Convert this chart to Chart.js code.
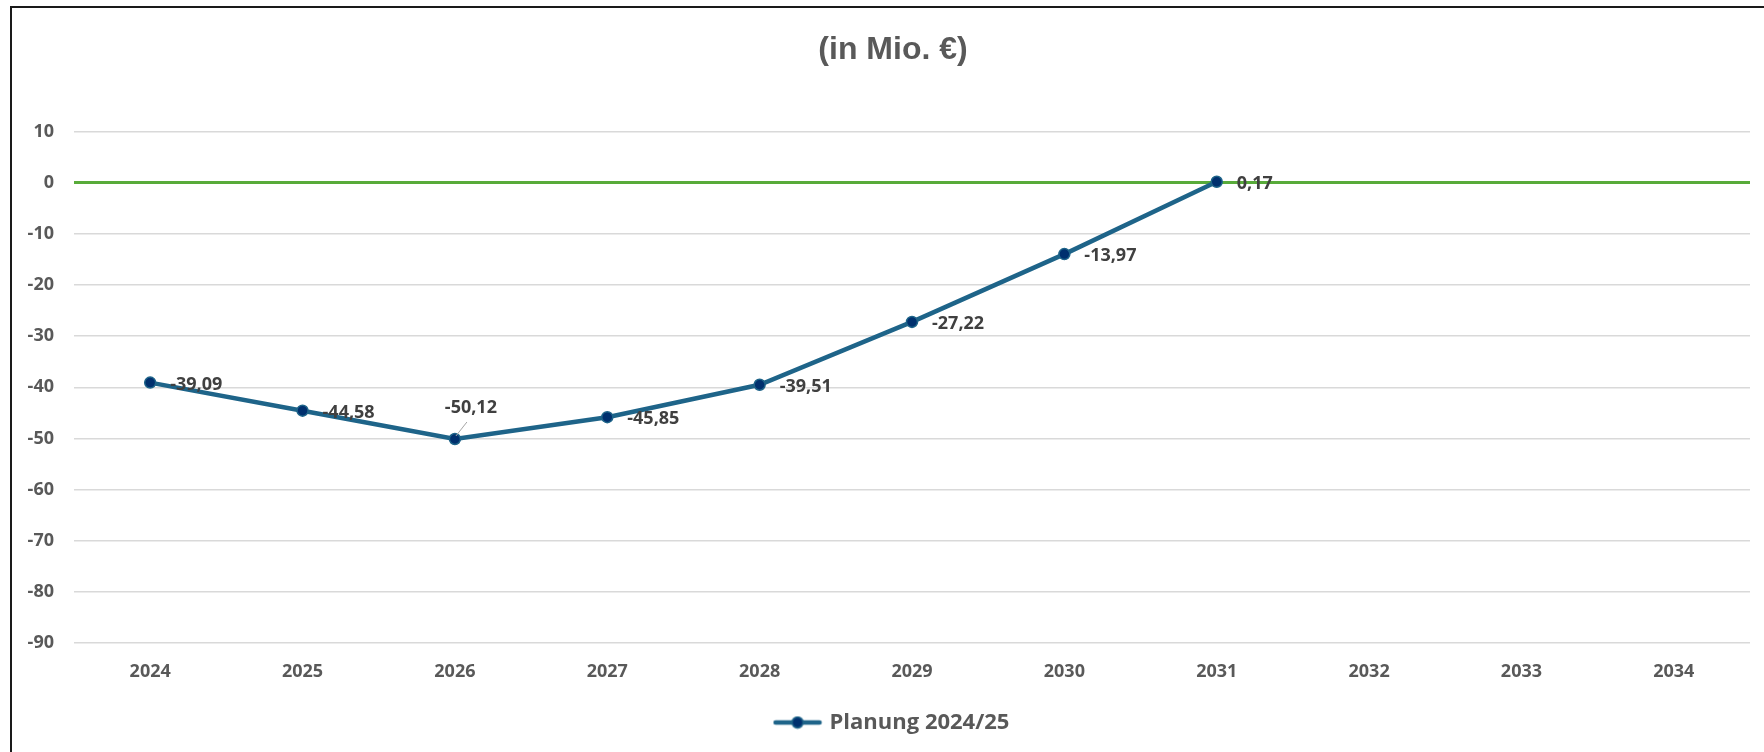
<!DOCTYPE html>
<html>
<head>
<meta charset="utf-8">
<script src="https://cdn.jsdelivr.net/npm/chart.js@4.4.1/dist/chart.umd.min.js"></script>
<style>
html,body{margin:0;padding:0;background:#fff;overflow:hidden;width:1764px;height:752px}
canvas{display:block}
</style>
</head>
<body>
<canvas id="c" width="1786" height="752"></canvas>
<script>
// ---- data ----
const years = ['2024','2025','2026','2027','2028','2029','2030','2031','2032','2033','2034'];
const planung = [-39.09, -44.58, -50.12, -45.85, -39.51, -27.22, -13.97, 0.17, null, null, null];
const yTicks = [10, 0, -10, -20, -30, -40, -50, -60, -70, -80, -90];
const seriesName = 'Planung 2024/25';
const chartTitle = '(in Mio. €)';

// ---- styles ----
const LINE_COLOR = '#1E6489';
const MARKER_FILL = '#00306E';
const GRID_COLOR = '#d9d9d9';
const ZERO_COLOR = '#58AB3A';
const TEXT_GRAY = '#595959';
const LABEL_GRAY = '#404040';
const FONT = '"Open Sans", sans-serif';
const CALLOUT_INDEX = 2; // label placed above with leader line

// legend symbol: line with marker
const legendSym = document.createElement('canvas');
legendSym.width = 50; legendSym.height = 14;
(function(){
  const g = legendSym.getContext('2d');
  g.strokeStyle = LINE_COLOR; g.lineWidth = 4.5; g.lineCap = 'round';
  g.beginPath(); g.moveTo(3, 7); g.lineTo(47, 7); g.stroke();
  g.fillStyle = MARKER_FILL; g.lineWidth = 1.5;
  g.beginPath(); g.arc(25, 7, 5.5, 0, Math.PI * 2); g.fill(); g.stroke();
})();

const framePlugin = {
  id: 'frame',
  beforeDraw(chart) {
    const {ctx, width, height} = chart;
    ctx.save();
    ctx.fillStyle = '#fff';
    ctx.fillRect(0, 0, width, height);
    ctx.strokeStyle = '#1a1a1a';
    ctx.lineWidth = 2;
    ctx.beginPath();
    ctx.moveTo(11, height + 5);
    ctx.lineTo(11, 7);
    ctx.lineTo(width + 5, 7);
    ctx.stroke();
    ctx.restore();
  }
};

const dataLabelPlugin = {
  id: 'dataLabels',
  afterDatasetsDraw(chart) {
    const ctx = chart.ctx;
    const meta = chart.getDatasetMeta(0);
    const vals = chart.data.datasets[0].data;
    ctx.save();
    ctx.font = 'bold 18px ' + FONT;
    ctx.fillStyle = LABEL_GRAY;
    ctx.textBaseline = 'middle';
    meta.data.forEach((pt, i) => {
      const v = vals[i];
      if (v === null || v === undefined) return;
      const txt = v.toFixed(2).replace('.', ',');
      if (i === CALLOUT_INDEX) {
        ctx.strokeStyle = '#a6a6a6';
        ctx.lineWidth = 1;
        ctx.beginPath();
        ctx.moveTo(pt.x + 1, pt.y - 3);
        ctx.lineTo(pt.x + 12, pt.y - 17);
        ctx.stroke();
        ctx.textAlign = 'center';
        ctx.fillText(txt, pt.x + 16, pt.y - 31);
      } else {
        ctx.textAlign = 'left';
        ctx.fillText(txt, pt.x + 20, pt.y + 2);
      }
    });
    ctx.restore();
  }
};

new Chart(document.getElementById('c'), {
  type: 'line',
  data: {
    labels: years,
    datasets: [{
      label: seriesName,
      data: planung,
      borderColor: LINE_COLOR,
      borderWidth: 4.5,
      pointRadius: 5.5,
      pointBorderWidth: 1.5,
      pointBackgroundColor: MARKER_FILL,
      pointBorderColor: LINE_COLOR,
      tension: 0,
      fill: false
    }]
  },
  options: {
    responsive: false,
    animation: false,
    devicePixelRatio: 1,
    layout: { padding: { left: 0, right: 0, top: 0, bottom: 8.5 } },
    plugins: {
      tooltip: { enabled: false },
      title: {
        display: true,
        text: chartTitle,
        color: TEXT_GRAY,
        font: { family: '"Liberation Sans", Arial, sans-serif', size: 32, weight: 'bold', lineHeight: 1.2 },
        padding: { top: 30.8, bottom: 62.3 }
      },
      legend: {
        display: true,
        position: 'bottom',
        labels: {
          color: TEXT_GRAY,
          font: { family: FONT, size: 22, weight: 'bold' },
          usePointStyle: true,
          pointStyleWidth: 42,
          padding: 10,
          generateLabels(chart) {
            return chart.data.datasets.map((ds, i) => ({
              text: ds.label,
              pointStyle: legendSym,
              fillStyle: MARKER_FILL,
              strokeStyle: LINE_COLOR,
              lineWidth: 0,
              fontColor: TEXT_GRAY,
              datasetIndex: i,
              hidden: false
            }));
          }
        }
      }
    },
    scales: {
      x: {
        type: 'category',
        offset: true,
        grid: { display: false, drawTicks: false },
        border: { display: false },
        ticks: {
          color: TEXT_GRAY,
          font: { family: FONT, size: 18, weight: 'bold' },
          padding: 18,
          maxRotation: 0,
          autoSkip: false
        },
        afterFit(scale) { scale.height = 58.5; }
      },
      y: {
        position: 'left',
        min: Math.min(...yTicks),
        max: Math.max(...yTicks),
        border: { display: false },
        grid: {
          drawTicks: false,
          color: (c) => (c.tick && c.tick.value === 0) ? ZERO_COLOR : GRID_COLOR,
          lineWidth: (c) => (c.tick && c.tick.value === 0) ? 3 : 1.5
        },
        ticks: {
          stepSize: 10,
          color: TEXT_GRAY,
          font: { family: FONT, size: 18, weight: 'bold' },
          padding: 20
        },
        afterFit(scale) { scale.width = 74; }
      },
      y2: {
        type: 'linear',
        position: 'right',
        display: true,
        grid: { display: false, drawTicks: false },
        border: { display: false },
        ticks: { display: false },
        afterFit(scale) { scale.width = 36; }
      }
    }
  },
  plugins: [framePlugin, dataLabelPlugin]
});
</script>
</body>
</html>
